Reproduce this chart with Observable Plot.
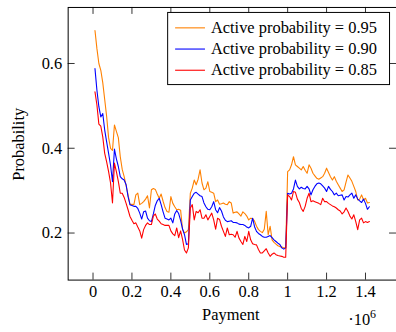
<!DOCTYPE html>
<html>
<head>
<meta charset="utf-8">
<script src="https://cdn.jsdelivr.net/npm/d3@7"></script>
<script src="https://cdn.jsdelivr.net/npm/@observablehq/plot@0.6"></script>
<style>
  html, body { margin: 0; padding: 0; background: #fff; overflow: hidden; }
  #chart { width: 396px; height: 332px; overflow: hidden; }
</style>
</head>
<body>
<div id="chart"></div>
<script>
// Payment levels (one sample every 10,000)
const payment = d3.range(10000, 1420001, 10000);

// Estimated probability for each active-probability setting
const p95 = [
  0.678,0.635,0.600,0.584,0.555,0.515,0.475,0.425,0.400,0.395,
  0.455,0.440,0.425,0.380,0.350,0.333,0.312,0.290,0.267,0.268,
  0.267,0.290,0.294,0.267,0.270,0.274,0.280,0.288,0.259,0.302,
  0.305,0.303,0.292,0.282,0.292,0.275,0.260,0.251,0.249,0.286,
  0.270,0.262,0.255,0.256,0.254,0.208,0.200,0.203,0.208,0.294,
  0.306,0.325,0.314,0.327,0.349,0.318,0.302,0.306,0.321,0.298,
  0.296,0.294,0.274,0.278,0.268,0.269,0.271,0.268,0.267,0.274,
  0.271,0.247,0.249,0.250,0.245,0.240,0.250,0.246,0.240,0.231,
  0.235,0.234,0.228,0.216,0.208,0.204,0.201,0.209,0.251,0.196,
  0.216,0.184,0.178,0.174,0.170,0.168,0.167,0.165,0.165,0.345,
  0.349,0.361,0.380,0.361,0.357,0.353,0.349,0.357,0.348,0.341,
  0.361,0.353,0.341,0.335,0.329,0.327,0.330,0.333,0.341,0.353,
  0.343,0.333,0.325,0.333,0.322,0.314,0.306,0.298,0.302,0.320,
  0.337,0.330,0.322,0.310,0.298,0.278,0.280,0.290,0.278,0.282,
  0.271,0.272
];
const p90 = [
  0.588,0.537,0.498,0.474,0.482,0.443,0.415,0.388,0.360,0.321,
  0.398,0.375,0.357,0.333,0.328,0.325,0.314,0.286,0.267,0.265,
  0.263,0.263,0.258,0.247,0.233,0.250,0.252,0.235,0.229,0.227,
  0.245,0.265,0.276,0.282,0.267,0.250,0.235,0.233,0.231,0.235,
  0.224,0.245,0.253,0.246,0.230,0.210,0.196,0.173,0.175,0.278,
  0.286,0.294,0.296,0.292,0.288,0.286,0.271,0.262,0.256,0.255,
  0.262,0.274,0.255,0.248,0.260,0.252,0.238,0.230,0.227,0.228,
  0.229,0.225,0.225,0.224,0.221,0.220,0.220,0.218,0.214,0.212,
  0.216,0.235,0.215,0.204,0.199,0.196,0.192,0.190,0.190,0.192,
  0.194,0.189,0.184,0.180,0.176,0.173,0.165,0.162,0.165,0.294,
  0.292,0.294,0.304,0.325,0.310,0.304,0.308,0.305,0.304,0.310,
  0.304,0.290,0.302,0.310,0.316,0.318,0.316,0.311,0.306,0.298,
  0.310,0.303,0.298,0.290,0.294,0.288,0.289,0.290,0.278,0.286,
  0.285,0.290,0.294,0.282,0.290,0.280,0.276,0.272,0.280,0.270,
  0.256,0.262
];
const p85 = [
  0.533,0.502,0.457,0.452,0.427,0.388,0.368,0.345,0.318,0.271,
  0.365,0.345,0.322,0.294,0.294,0.284,0.270,0.255,0.239,0.230,
  0.222,0.224,0.214,0.205,0.188,0.208,0.218,0.224,0.220,0.220,
  0.240,0.245,0.233,0.228,0.222,0.220,0.218,0.218,0.218,0.205,
  0.198,0.194,0.212,0.189,0.205,0.185,0.160,0.153,0.165,0.259,
  0.267,0.231,0.251,0.248,0.255,0.235,0.235,0.243,0.231,0.239,
  0.247,0.231,0.209,0.235,0.232,0.216,0.204,0.192,0.212,0.196,
  0.197,0.196,0.190,0.204,0.188,0.180,0.173,0.192,0.180,0.204,
  0.184,0.175,0.173,0.172,0.161,0.153,0.153,0.158,0.163,0.153,
  0.145,0.150,0.153,0.149,0.147,0.146,0.145,0.143,0.143,0.290,
  0.286,0.278,0.298,0.296,0.280,0.272,0.258,0.251,0.263,0.282,
  0.294,0.274,0.276,0.274,0.272,0.270,0.267,0.282,0.274,0.274,
  0.270,0.267,0.264,0.262,0.259,0.255,0.252,0.245,0.250,0.259,
  0.251,0.240,0.233,0.243,0.227,0.208,0.231,0.235,0.224,0.227,
  0.225,0.227
];

const seriesNames = ["Active probability = 0.95", "Active probability = 0.90", "Active probability = 0.85"];
const seriesColors = ["#ff8000", "#0000ff", "#ff0000"];
const xTicks = [0, 200000, 400000, 600000, 800000, 1000000, 1200000, 1400000];
const yTicks = [0.2, 0.4, 0.6];
const xLabel = "Payment";
const yLabel = "Probability";

// Long-format rows for the line mark
const rows = [];
[p95, p90, p85].forEach((vals, s) =>
  vals.forEach((v, i) => rows.push({payment: payment[i], prob: v, series: seriesNames[s]}))
);

const W = 398, H = 332;
const mL = 68, mR = 0, mT = 7, mB = 51;
const innerW = W - mL - mR, innerH = H - mT - mB;
const xDomain = [-127800, 1559317];
const yDomain = [0.089, 0.7322];
const tickLen = 7;
// tick length expressed in each scale's units
const xTickSpan = tickLen * (xDomain[1] - xDomain[0]) / innerW;
const yTickSpan = tickLen * (yDomain[1] - yDomain[0]) / innerH;
const font = "'Liberation Serif', 'Times New Roman', serif";
const tickStyle = {stroke: "#333", strokeWidth: 1};

const chart = Plot.plot({
  width: W, height: H,
  marginLeft: mL, marginRight: mR, marginTop: mT, marginBottom: mB,
  style: {fontFamily: font, fontSize: "16.5px", background: "#fff", color: "#000", overflow: "visible"},
  x: {domain: xDomain},
  y: {domain: yDomain},
  color: {domain: seriesNames, range: seriesColors},
  marks: [
    Plot.lineY(rows, {x: "payment", y: "prob", z: "series", stroke: "series", strokeWidth: 1.1}),
    // inward tick marks on all four sides of the frame
    Plot.ruleX(xTicks, {x: d => d, y1: yDomain[0], y2: yDomain[0] + yTickSpan, ...tickStyle}),
    Plot.ruleX(xTicks, {x: d => d, y1: yDomain[1], y2: yDomain[1] - yTickSpan, ...tickStyle}),
    Plot.ruleY(yTicks, {y: d => d, x1: xDomain[0], x2: xDomain[0] + xTickSpan, ...tickStyle}),
    Plot.ruleY(yTicks, {y: d => d, x1: xDomain[1], x2: xDomain[1] - xTickSpan, ...tickStyle}),
    Plot.frame({stroke: "#000", strokeWidth: 1}),
    Plot.axisX({anchor: "bottom", ticks: xTicks, tickSize: 0, tickPadding: 5, label: null,
                tickFormat: d => d3.format("~g")(d / 1e6)}),
    Plot.axisY({anchor: "left", ticks: yTicks, tickSize: 0, tickPadding: 6, label: null,
                tickFormat: d3.format(".1f")})
  ]
});

document.getElementById("chart").appendChild(chart);

const svg = d3.select(chart);

// Axis titles
svg.append("text")
  .attr("x", 232).attr("y", 321.5)
  .attr("text-anchor", "middle")
  .attr("font-family", font).attr("font-size", 16.5).attr("fill", "#000")
  .text(xLabel);

svg.append("text")
  .attr("transform", "translate(24,145) rotate(-90)")
  .attr("text-anchor", "middle")
  .attr("font-family", font).attr("font-size", 16.5).attr("fill", "#000")
  .text(yLabel);

// Scale factor for the payment axis
const sci = svg.append("text")
  .attr("x", 350).attr("y", 327)
  .attr("text-anchor", "start")
  .attr("font-family", font).attr("font-size", 16.5).attr("fill", "#000");
sci.append("tspan").text("\u00b710");
sci.append("tspan").attr("dy", -7).attr("font-size", 12).text("6");

// Legend box in the upper right corner
const lg = svg.append("g").attr("text-anchor", "start");
lg.append("rect")
  .attr("x", 168.5).attr("y", 12.5).attr("width", 223).attr("height", 72.5)
  .attr("fill", "#fff").attr("stroke", "#000").attr("stroke-width", 1);
seriesNames.forEach((name, i) => {
  const cy = 28 + i * 21.3;
  lg.append("line")
    .attr("x1", 176).attr("x2", 206).attr("y1", cy).attr("y2", cy)
    .attr("stroke", seriesColors[i]).attr("stroke-width", 1.1);
  lg.append("text")
    .attr("x", 212).attr("y", cy + 5)
    .attr("text-anchor", "start")
    .attr("font-family", font).attr("font-size", 16.5).attr("fill", "#000")
    .text(name);
});
</script>
</body>
</html>
